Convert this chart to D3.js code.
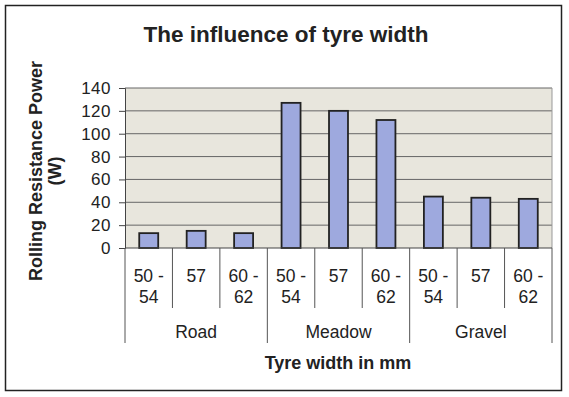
<!DOCTYPE html>
<html><head><meta charset="utf-8">
<script src="https://cdn.jsdelivr.net/npm/d3@7"></script>
<style>body{margin:0;background:#fff}svg{display:block}text{font-family:"Liberation Sans",Arial,sans-serif}</style>
</head><body>
<script>
const groups = ["Road","Meadow","Gravel"];
const widths = [["50 -","54"],["57"],["60 -","62"]];
const values = [13,15,13, 127,120,112, 45,44,43];
const yTicks = [0,20,40,60,80,100,120,140];
const title = "The influence of tyre width";
const yTitle = ["Rolling Resistance Power","(W)"];
const xTitle = "Tyre width in mm";

const W=569,H=397;
const svg=d3.select("body").append("svg").attr("width",W).attr("height",H);
svg.append("rect").attr("x",5.5).attr("y",5.5).attr("width",556).attr("height",385)
  .attr("fill","#fff").attr("stroke","#222").attr("stroke-width",1.5);

const L=125,R=552,T=88,B=248;
const cats=d3.range(values.length);
const x=d3.scaleBand().domain(cats).range([L,R]).paddingInner(0.6).paddingOuter(0.3);
const xs=d3.scaleBand().domain(cats).range([L,R]);
const y=d3.scaleLinear().domain([0,140]).range([B,T]);

svg.append("rect").attr("x",L).attr("y",T).attr("width",R-L).attr("height",B-T).attr("fill","#e8e6dd");
svg.append("g").selectAll("line").data(yTicks.filter(d=>d>0)).join("line")
  .attr("x1",L).attr("x2",R).attr("y1",d=>y(d)).attr("y2",d=>y(d)).attr("stroke","#666").attr("stroke-width",1);
svg.append("line").attr("x1",R).attr("x2",R).attr("y1",T).attr("y2",B).attr("stroke","#999");

const ya=svg.append("g").attr("transform",`translate(${L},0)`)
  .call(d3.axisLeft(y).tickValues(yTicks).tickSize(6).tickPadding(8));
ya.select(".domain").attr("stroke","#444");
ya.selectAll(".tick line").attr("stroke","#444");
ya.selectAll("text").attr("font-size",17).attr("letter-spacing","0.5px").attr("fill","#222")
  .attr("font-family","Liberation Sans, Arial");

svg.append("g").selectAll("rect").data(values).join("rect")
  .attr("x",(d,i)=>x(i)).attr("width",x.bandwidth())
  .attr("y",d=>y(d)).attr("height",d=>B-y(d))
  .attr("fill","#9ea9de").attr("stroke","#222").attr("stroke-width",1.8);

// category axis
svg.append("line").attr("x1",L).attr("x2",R).attr("y1",B).attr("y2",B).attr("stroke","#444");
const sep=svg.append("g").attr("stroke","#555");
d3.range(values.length+1).forEach(i=>{
  const xx=i<values.length?xs(i):R;
  const major=i%3===0;
  sep.append("line").attr("x1",xx).attr("x2",xx).attr("y1",B).attr("y2",major?343:308);
});
const lab=svg.append("g").attr("font-size",17.5).attr("fill","#222").attr("text-anchor","middle");
cats.forEach(i=>{
  const cx=xs(i)+xs.bandwidth()/2;
  widths[i%3].forEach((t,k)=>{
    lab.append("text").attr("x",cx).attr("y",282+k*21).text(t);
  });
});
groups.forEach((g,j)=>{
  const cx=(xs(j*3)+ (j<2?xs(j*3+3):R))/2;
  lab.append("text").attr("x",cx).attr("y",338).text(g);
});

svg.append("text").attr("x",286).attr("y",42).attr("text-anchor","middle")
  .attr("font-size",22.5).attr("font-weight","bold").attr("fill","#222").text(title);
svg.append("text").attr("x",338).attr("y",369).attr("text-anchor","middle")
  .attr("font-size",18).attr("font-weight","bold").attr("fill","#222").text(xTitle);
[41.5,61].forEach((bx,k)=>{
  svg.append("text").attr("transform",`translate(${bx},171) rotate(-90)`)
    .attr("text-anchor","middle").attr("font-size",18).attr("font-weight","bold").attr("fill","#222").text(yTitle[k]);
});
</script>
</body></html>
